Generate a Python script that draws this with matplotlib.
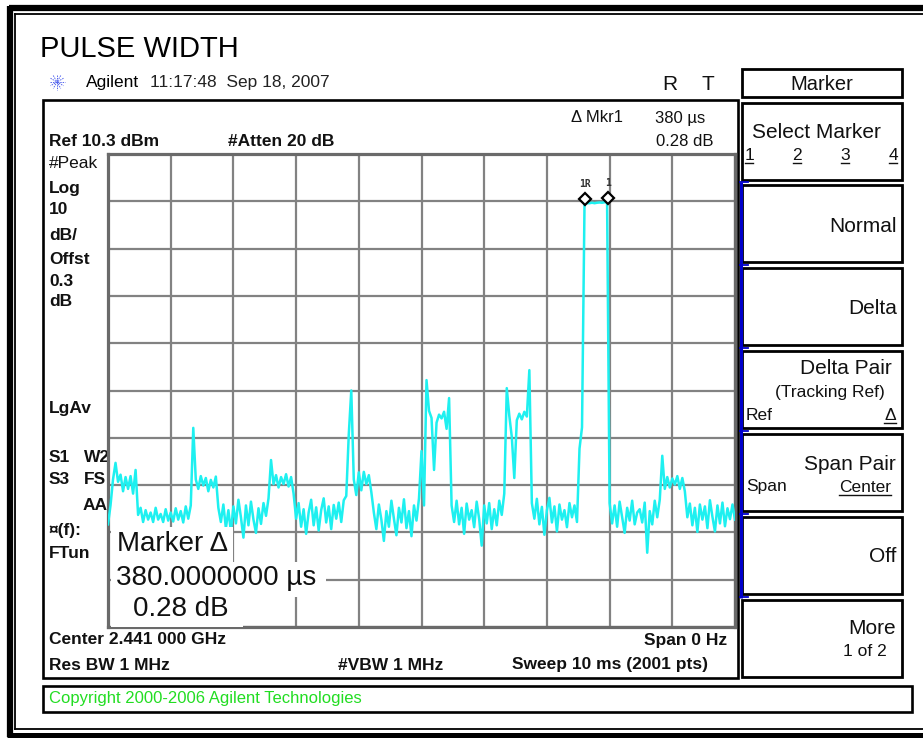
import numpy as np
import matplotlib
matplotlib.use('Agg')
import matplotlib.pyplot as plt
from matplotlib.patches import Rectangle
import matplotlib.transforms as mtransforms

plt.rcParams['font.family'] = ['Liberation Sans', 'DejaVu Sans']

W, H = 923, 738

# analyzer settings
ref_level = 10.3        # dBm at top graticule line
db_per_div = 10
n_div = 10
sweep_ms = 10
time_step_ms = 0.04     # one value every 40 us

# zero-span trace, dBm, one row per millisecond
trace_dbm = [
    -68.0, -64.0, -58.5, -55.0, -59.0, -57.5, -61.0, -58.0, -60.5, -57.8, -61.5, -56.5, -66.0,
    -64.5, -67.5, -65.0, -67.0, -65.5, -67.5, -64.5, -67.0, -65.8, -67.5, -64.8, -67.2,
    -65.5, -67.4, -64.6, -67.0, -65.2, -67.6, -64.2, -66.8, -64.0, -47.6, -58.5, -60.5, -57.8,
    -59.8, -58.2, -61.0, -58.6, -60.2, -57.9, -64.5, -67.5, -63.8, -68.8, -65.0, -69.5,
    -64.2, -67.8, -62.8, -66.5, -70.8, -64.0, -68.2, -63.2, -67.0, -69.8, -64.6, -67.9, -63.5,
    -66.2, -62.5, -54.4, -59.5, -57.6, -60.2, -58.0, -59.5, -57.4, -60.0, -58.0, -61.5,
    -66.8, -63.5, -68.5, -64.8, -70.0, -65.5, -62.8, -68.2, -64.4, -69.3, -65.0, -62.5, -67.6,
    -64.2, -69.0, -63.9, -66.8, -63.4, -67.5, -62.9, -62.0, -49.0, -39.7, -58.5, -61.8,
    -57.0, -60.8, -56.9, -59.5, -57.6, -61.2, -65.5, -69.0, -63.8, -67.0, -71.5, -65.2, -68.5,
    -63.0, -66.8, -70.3, -64.5, -67.6, -62.7, -68.8, -65.2, -70.5, -64.0, -67.2, -62.5,
    -52.5, -64.0, -37.5, -44.0, -45.5, -56.5, -46.5, -44.8, -45.6, -44.2, -47.8, -41.3, -64.0,
    -67.5, -63.0, -68.0, -64.5, -70.0, -63.6, -67.0, -65.0, -68.6, -63.2, -66.9, -72.5,
    -64.0, -67.8, -63.5, -69.0, -64.8, -68.2, -63.0, -66.0, -61.5, -39.2, -45.0, -49.5, -58.2,
    -46.0, -44.6, -45.8, -44.2, -45.2, -35.4, -63.5, -66.8, -62.6, -68.0, -64.3, -70.2,
    -65.0, -62.4, -67.6, -64.2, -69.5, -63.8, -67.0, -65.0, -68.6, -63.5, -66.5, -64.0, -67.5,
    -52.0, -47.5, -0.2, -0.1, -0.1, 0.0, -0.1, 0.0, 0.05, 0.0, 0.1, 0.08,
    -63.5, -67.8, -64.0, -68.5, -63.2, -66.5, -69.8, -64.5, -67.2, -63.0, -68.0, -65.5, -64.8,
    -67.6, -63.4, -74.0, -65.2, -68.0, -63.0, -66.5, -62.8, -53.5, -60.5, -58.0, -60.2,
    -58.3, -59.6, -57.8, -60.5, -58.2, -61.0, -66.5, -63.6, -68.2, -64.5, -69.6, -63.8, -67.0,
    -64.2, -68.8, -62.9, -66.4, -69.5, -64.0, -67.8, -63.4, -68.4, -64.6, -66.9, -63.8, -67.0,
]

# delta marker pair
marker_ms = [7.60, 7.98]
marker_dbm = [-0.20, 0.08]
marker_names = ['1R', '1']

left_labels = ['#Peak', 'Log', '10', 'dB/', 'Offst', '0.3', 'dB', 'LgAv']
softkeys = ['Normal', 'Delta', 'Delta Pair', 'Span Pair', 'Off', 'More']

t_ms = np.arange(len(trace_dbm)) * time_step_ms

fig = plt.figure(figsize=(W / 100, H / 100), dpi=100)
fig.patch.set_facecolor('white')

# background layer in pixel coordinates
bg = fig.add_axes([0, 0, 1, 1], zorder=0)
bg.set_xlim(0, W)
bg.set_ylim(H, 0)
bg.axis('off')

# trace graticule
ax = fig.add_axes([108 / W, 1 - 627 / H, 627 / W, 473 / H], zorder=1)
ax.set_facecolor('white')
ax.set_xlim(0, sweep_ms)
ax.set_ylim(ref_level - n_div * db_per_div, ref_level)
ax.set_xticks(np.arange(0, sweep_ms + 1, 1))
ax.set_yticks(np.arange(ref_level - n_div * db_per_div, ref_level + 0.1, db_per_div))
ax.tick_params(length=0, labelbottom=False, labelleft=False)
ax.grid(True, color='#828282', linewidth=1.6)
ax.set_axisbelow(True)
for sp in ax.spines.values():
    sp.set_color('#6a6a6a')
    sp.set_linewidth(2.3)

ax.plot(t_ms, trace_dbm, color='#1ef0f0', linewidth=1.8, zorder=3)

# diamonds sit just above the trace
up = mtransforms.ScaledTranslation(0, 0.045, fig.dpi_scale_trans)
ax.plot(marker_ms, marker_dbm, linestyle='none', marker='D', markersize=6.5,
        markerfacecolor='white', markeredgecolor='black', markeredgewidth=1.6,
        transform=ax.transData + up, zorder=4, clip_on=False)
for m, d, name in zip(marker_ms, marker_dbm, marker_names):
    ax.annotate(name, (m, d), xytext=(0, 14), textcoords='offset points', ha='center',
                va='center', fontsize=7, fontweight='bold', family='DejaVu Sans Mono',
                color='#333333', annotation_clip=False, zorder=5)

# foreground layer (marker readout box)
fg = fig.add_axes([0, 0, 1, 1], zorder=2)
fg.set_xlim(0, W)
fg.set_ylim(H, 0)
fg.axis('off')
fg.patch.set_alpha(0)


def txt(a, x, y, s, size=12.5, bold=False, ha='left', color='#111111', **kw):
    a.text(x, y, s, fontsize=size, fontweight='bold' if bold else 'normal',
           ha=ha, va='center', color=color, **kw)


def box(a, x0, y0, x1, y1, lw=1.6, color='black'):
    a.add_patch(Rectangle((x0, y0), x1 - x0, y1 - y0, fill=False,
                          edgecolor=color, linewidth=lw))


# outer screen frame
bg.plot([9, 923], [8, 8], color='black', lw=4.5, solid_capstyle='butt')
bg.plot([9.5, 9.5], [6, 737], color='black', lw=4.5, solid_capstyle='butt')
bg.plot([7, 923], [734.5, 734.5], color='black', lw=3.6, solid_capstyle='butt')
bg.plot([15, 923], [14, 14], color='black', lw=1.3)
bg.plot([15, 15], [14, 729], color='black', lw=1.3)
bg.plot([15, 923], [729, 729], color='black', lw=1.3)

# title and header
txt(bg, 40, 49, 'PULSE WIDTH', size=21, color='black')
txt(bg, 86, 83, 'Agilent', size=12.5, color='black')
txt(bg, 150, 83, '11:17:48  Sep 18, 2007', size=12.5, color='#222222')
cx, cy = 57, 82
for ang in np.arange(0, 180, 30):
    dx = 7.5 * np.cos(np.radians(ang))
    dy = 7.5 * np.sin(np.radians(ang))
    bg.plot([cx - dx, cx + dx], [cy - dy, cy + dy], color='#5566ee', lw=0.7,
            linestyle=(0, (1.5, 1)))
txt(bg, 670, 84, 'R', size=15, ha='center')
txt(bg, 708, 84, 'T', size=15, ha='center')

# instrument display box
box(bg, 43, 100, 738, 678, lw=1.9)
txt(bg, 571, 118, '\u0394 Mkr1', size=12)
txt(bg, 655, 118, '380 \u00b5s', size=12)
txt(bg, 713, 142, '0.28 dB', size=12, ha='right')
txt(bg, 49, 142, 'Ref 10.3 dBm', size=12.5, bold=True)
txt(bg, 228, 142, '#Atten 20 dB', size=12.5, bold=True)

left_y = [163, 188, 210, 236, 260, 282, 302, 408]
for lab, y in zip(left_labels, left_y):
    txt(bg, 49, y, lab, size=12.5, bold=(lab != '#Peak'))
txt(bg, 49, 457, 'S1', size=12.5, bold=True)
txt(bg, 84, 457, 'W2', size=12.5, bold=True)
txt(bg, 49, 480, 'S3', size=12.5, bold=True)
txt(bg, 84, 480, 'FS', size=12.5, bold=True)
txt(bg, 83, 505, 'AA', size=12.5, bold=True)
txt(bg, 49, 530, '\u00a4(f):', size=12.5, bold=True)
txt(bg, 49, 553, 'FTun', size=12.5, bold=True)

txt(bg, 49, 640, 'Center 2.441 000 GHz', size=12.5, bold=True)
txt(bg, 727, 640, 'Span 0 Hz', size=12.5, bold=True, ha='right')
txt(bg, 49, 665, 'Res BW 1 MHz', size=12.5, bold=True)
txt(bg, 338, 665, '#VBW 1 MHz', size=12.5, bold=True)
txt(bg, 512, 665, 'Sweep 10 ms (2001 pts)', size=12.5, bold=True)

# marker readout over the graticule
for x0, y0, x1, y1 in [(111, 527, 233, 562), (111, 562, 326, 597), (111, 597, 243, 627)]:
    fg.add_patch(Rectangle((x0, y0), x1 - x0, y1 - y0, facecolor='white', edgecolor='none'))
txt(fg, 117, 544, 'Marker \u0394', size=20)
txt(fg, 116, 578, '380.0000000 \u00b5s', size=20)
txt(fg, 133, 609, '0.28 dB', size=20)

# softkey panel
box(bg, 742, 69, 902, 97, lw=2)
txt(bg, 822, 84, 'Marker', size=14.5, ha='center')
box(bg, 742, 103, 902, 180, lw=2)
txt(bg, 752, 132, 'Select Marker', size=15)
for num, x in zip(['1', '2', '3', '4'], [749, 797, 845, 893]):
    txt(bg, x, 155, num, size=12.5, ha='center')
    bg.plot([x - 4, x + 4], [163, 163], color='#111111', lw=1)

key_tops = [185, 268, 351, 434, 517, 600]
for top in key_tops:
    box(bg, 742, top, 902, top + 77, lw=2)
txt(bg, 897, 226, softkeys[0], size=15, ha='right')
txt(bg, 897, 309, softkeys[1], size=15, ha='right')
txt(bg, 892, 369, softkeys[2], size=15, ha='right')
txt(bg, 885, 393, '(Tracking Ref)', size=12.5, ha='right')
txt(bg, 746, 415, 'Ref', size=12.5)
txt(bg, 896, 415, '\u0394', size=12.5, ha='right')
bg.plot([884, 896], [423, 423], color='#111111', lw=1)
txt(bg, 896, 464, softkeys[3], size=15, ha='right')
txt(bg, 746, 487, 'Span', size=12.5)
txt(bg, 891, 487, 'Center', size=12.5, ha='right')
bg.plot([839, 891], [495, 495], color='#111111', lw=1)
txt(bg, 896, 557, softkeys[4], size=15, ha='right')
txt(bg, 896, 628, softkeys[5], size=15, ha='right')
txt(bg, 887, 651, '1 of 2', size=12.5, ha='right')

# blue active bracket
bg.plot([740.5, 740.5], [182, 598], color='#0000cc', lw=2.2, solid_capstyle='butt')
for y in [182, 265, 348, 431, 514, 597]:
    bg.plot([740, 748], [y, y], color='#0000cc', lw=1.3)

# copyright bar
box(bg, 43, 686, 912, 712, lw=1.9)
txt(bg, 49, 699, 'Copyright 2000-2006 Agilent Technologies', size=12, color='#22dd22')

fig.savefig('out.png', dpi=100, facecolor='white')
